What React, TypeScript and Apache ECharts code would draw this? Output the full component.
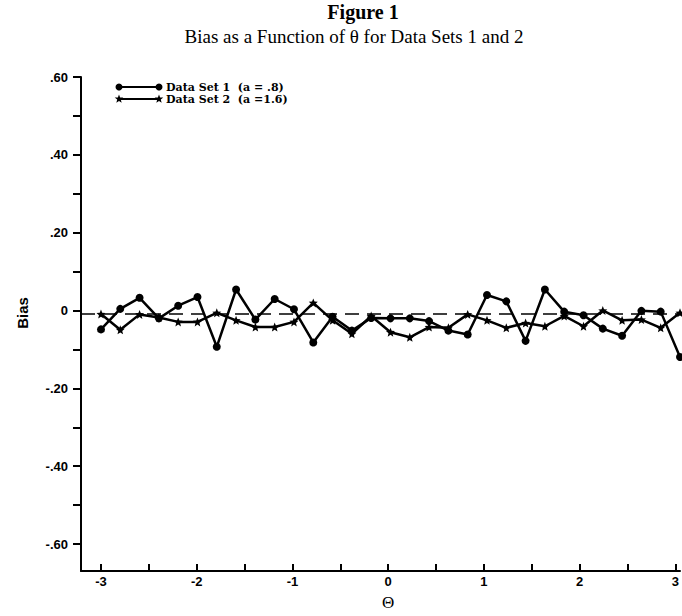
import React, { useEffect, useRef } from "react";
import * as echarts from "echarts";

const thetas = [-3.0, -2.8, -2.6, -2.4, -2.2, -2.0, -1.8, -1.6, -1.4, -1.2, -1.0, -0.8, -0.6, -0.4, -0.2, 0.0, 0.2, 0.4, 0.6, 0.8, 1.0, 1.2, 1.4, 1.6, 1.8, 2.0, 2.2, 2.4, 2.6, 2.8, 3.0];
const dataSet1 = [-0.039, 0.013, 0.041, -0.011, 0.021, 0.043, -0.083, 0.062, -0.014, 0.038, 0.012, -0.072, -0.007, -0.042, -0.010, -0.011, -0.011, -0.018, -0.042, -0.052, 0.048, 0.032, -0.068, 0.062, 0.006, -0.003, -0.037, -0.055, 0.008, 0.006, -0.109];
const dataSet2 = [0.0, -0.040, -0.001, -0.009, -0.020, -0.020, 0.003, -0.016, -0.033, -0.033, -0.020, 0.028, -0.016, -0.050, -0.005, -0.046, -0.059, -0.033, -0.035, -0.001, -0.016, -0.035, -0.023, -0.031, -0.005, -0.031, 0.009, -0.016, -0.014, -0.035, 0.003];
const seriesNames = ["Data Set 1", "Data Set 2"];
const legendLabels = ["Data Set 1  (a = .8)", "Data Set 2  (a =1.6)"];
const title = "Figure 1";
const subtitle = "Bias as a Function of θ for Data Sets 1 and 2";

const STAR = "path://M0,-10L2.6,-3.6L9.5,-3.1L4.2,1.4L5.9,8.1L0,4.4L-5.9,8.1L-4.2,1.4L-9.5,-3.1L-2.6,-3.6Z";

function starPoints(cx: number, cy: number, r: number): number[][] {
  const pts: number[][] = [];
  for (let i = 0; i < 10; i++) {
    const a = -Math.PI / 2 + (i * Math.PI) / 5;
    const rr = i % 2 === 0 ? r : r * 0.42;
    pts.push([cx + rr * Math.cos(a), cy + rr * Math.sin(a)]);
  }
  return pts;
}

function yLabel(v: number): string {
  const k = Math.round(v * 10);
  if (k % 2 !== 0) return "";
  if (k === 0) return "0";
  const s = Math.abs(v).toFixed(2).replace(/^0/, "");
  return (v < 0 ? "-" : "") + s;
}

function xLabel(v: number): string {
  if (Math.abs(v - Math.round(v)) > 1e-6) return "";
  return String(Math.round(v));
}

export default function App() {
  const ref = useRef<HTMLDivElement>(null);
  useEffect(() => {
    if (!ref.current) return;
    const chart = echarts.init(ref.current, null, { renderer: "svg" });
    const axisFont = { fontFamily: "Liberation Sans", fontWeight: "bold" as const, fontSize: 13, color: "#000" };
    const legendY = [87, 99];
    const legendFont = { fontFamily: "DejaVu Serif", fontWeight: "bold", fontSize: 11, fill: "#000", textVerticalAlign: "middle" };
    chart.setOption({
      animation: false,
      backgroundColor: "#fff",
      title: [
        { text: title, left: 363, top: 2, padding: 0, textAlign: "center", textStyle: { fontFamily: "Liberation Serif", fontWeight: "bold", fontSize: 20, color: "#000" } },
        { text: subtitle, left: 354, top: 27, padding: 0, textAlign: "center", textStyle: { fontFamily: "Liberation Serif", fontWeight: "normal", fontSize: 19, color: "#000" } },
      ],
      grid: [
        { left: 81, right: 2, top: 77, bottom: 45 },
        { left: 101, right: 2, top: 77, bottom: 65 },
      ],
      xAxis: [
        {
          type: "value", gridIndex: 0, min: -3.207, max: 3,
          axisLine: { show: true, onZero: false, lineStyle: { color: "#000", width: 2 } },
          axisTick: { show: false }, axisLabel: { show: false }, splitLine: { show: false },
        },
        {
          type: "value", gridIndex: 1, min: -3, max: 3, interval: 0.5, offset: 20,
          axisLine: { show: false, onZero: false },
          axisTick: { show: true, length: 8, lineStyle: { color: "#000", width: 2 } },
          axisLabel: { ...axisFont, margin: 11, formatter: xLabel },
          splitLine: { show: false },
          name: "Θ", nameLocation: "middle", nameGap: 30,
          nameTextStyle: { fontFamily: "Liberation Serif", fontSize: 17, color: "#000" },
        },
      ],
      yAxis: [
        {
          type: "value", gridIndex: 0, min: -0.650633, max: 0.6,
          axisLine: { show: true, onZero: false, lineStyle: { color: "#000", width: 2 } },
          axisTick: { show: false }, axisLabel: { show: false }, splitLine: { show: false },
        },
        {
          type: "value", gridIndex: 1, min: -0.6, max: 0.6, interval: 0.1, offset: 20,
          axisLine: { show: false, onZero: false },
          axisTick: { show: true, length: 8, lineStyle: { color: "#000", width: 2 } },
          axisLabel: { ...axisFont, margin: 13, formatter: yLabel },
          splitLine: { show: false },
        },
      ],
      series: [
        {
          name: seriesNames[0], type: "line", xAxisIndex: 0, yAxisIndex: 0,
          data: thetas.map((t, i) => [t, dataSet1[i]]),
          symbol: "circle", symbolSize: 8, showSymbol: true,
          lineStyle: { color: "#000", width: 2.5 }, itemStyle: { color: "#000" },
          markLine: {
            silent: true, symbol: "none", label: { show: false },
            lineStyle: { color: "#000", width: 1.5, type: [14, 8] },
            data: [{ yAxis: 0 }],
          },
        },
        {
          name: seriesNames[1], type: "line", xAxisIndex: 0, yAxisIndex: 0,
          data: thetas.map((t, i) => [t, dataSet2[i]]),
          symbol: STAR, symbolSize: 9, showSymbol: true,
          lineStyle: { color: "#000", width: 2.5 }, itemStyle: { color: "#000" },
        },
      ],
      graphic: [
        { type: "text", x: 22, y: 313, rotation: Math.PI / 2, style: { text: "Bias", fontFamily: "Liberation Sans", fontWeight: "bold", fontSize: 15, fill: "#000", textAlign: "center", textVerticalAlign: "middle" } },
        { type: "line", shape: { x1: 119, y1: legendY[0], x2: 159, y2: legendY[0] }, style: { stroke: "#000", lineWidth: 2 } },
        { type: "circle", shape: { cx: 119, cy: legendY[0], r: 3.5 }, style: { fill: "#000" } },
        { type: "circle", shape: { cx: 159, cy: legendY[0], r: 3.5 }, style: { fill: "#000" } },
        { type: "text", x: 166, y: legendY[0], style: { text: legendLabels[0], ...legendFont } },
        { type: "line", shape: { x1: 119, y1: legendY[1], x2: 159, y2: legendY[1] }, style: { stroke: "#000", lineWidth: 2 } },
        { type: "polygon", shape: { points: starPoints(119, legendY[1], 4.5) }, style: { fill: "#000" } },
        { type: "polygon", shape: { points: starPoints(159, legendY[1], 4.5) }, style: { fill: "#000" } },
        { type: "text", x: 166, y: legendY[1], style: { text: legendLabels[1], ...legendFont } },
      ],
    });
    return () => chart.dispose();
  }, []);
  return <div ref={ref} style={{ width: 682, height: 616, position: "absolute", left: 0, top: 0 }} />;
}
